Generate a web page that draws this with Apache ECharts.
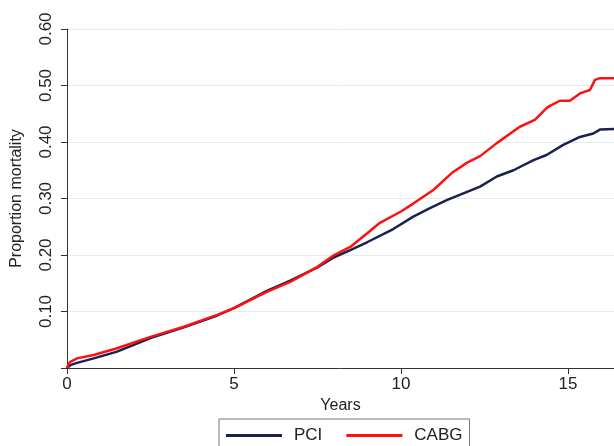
<!DOCTYPE html>
<html>
<head>
<meta charset="utf-8">
<script src="https://cdn.jsdelivr.net/npm/echarts@6/dist/echarts.min.js"></script>
<style>html,body{margin:0;padding:0;background:#fff}#c{width:614px;height:446px}</style>
</head>
<body>
<div id="c"></div>
<script>
var pciYears = [0, 0.1, 0.3, 0.8, 1.5, 2.5, 3.5, 4.5, 5.0, 6.0, 6.7, 7.5, 8.0, 8.5, 9.0, 9.77, 10.37, 10.87, 11.37, 11.87, 12.37, 12.87, 13.37, 13.97, 14.36, 14.86, 15.36, 15.76, 15.96, 16.38];
var pciValues = [0, 0.005, 0.009, 0.017, 0.029, 0.053, 0.072, 0.093, 0.106, 0.137, 0.155, 0.178, 0.196, 0.209, 0.223, 0.246, 0.268, 0.283, 0.297, 0.309, 0.321, 0.339, 0.350, 0.368, 0.377, 0.395, 0.409, 0.415, 0.422, 0.423];
var cabgYears = [0, 0.05, 0.1, 0.3, 0.8, 1.5, 2.5, 3.5, 4.5, 5.0, 6.0, 6.7, 7.5, 8.0, 8.5, 9.0, 9.37, 10.0, 10.37, 10.97, 11.52, 11.97, 12.37, 12.87, 13.56, 14.01, 14.36, 14.46, 14.76, 15.06, 15.36, 15.66, 15.81, 15.96, 16.38];
var cabgValues = [0, 0.007, 0.011, 0.017, 0.023, 0.035, 0.055, 0.073, 0.094, 0.106, 0.135, 0.153, 0.179, 0.200, 0.215, 0.239, 0.257, 0.277, 0.291, 0.315, 0.345, 0.363, 0.375, 0.398, 0.427, 0.439, 0.460, 0.464, 0.473, 0.473, 0.486, 0.492, 0.510, 0.513, 0.513];
var seriesNames = ['PCI', 'CABG'];

function pairs(xs, ys) { return xs.map(function (x, i) { return [x, ys[i]]; }); }

var font = 'Liberation Sans, Arial, sans-serif';
var chart = echarts.init(document.getElementById('c'));
chart.setOption({
  animation: false,
  grid: { left: 67, right: 0, top: 29, bottom: 78, containLabel: false, outerBoundsMode: 'none' },
  legend: {
    data: seriesNames,
    left: 219, top: 419,
    orient: 'horizontal',
    icon: 'rect',
    itemWidth: 56, itemHeight: 3,
    itemGap: 24,
    padding: [8, 7, 20, 7],
    borderColor: '#777', borderWidth: 1,
    textStyle: { fontFamily: font, fontSize: 17, color: '#222', padding: [0, 0, 0, 7] }
  },
  xAxis: {
    type: 'value', min: 0, max: 16.38, interval: 5,
    name: 'Years', nameLocation: 'middle', nameGap: 30,
    nameTextStyle: { fontFamily: font, fontSize: 16, color: '#222' },
    axisLine: { show: true, lineStyle: { color: '#333', width: 1 } },
    axisTick: { show: true, length: 6, lineStyle: { color: '#333' } },
    axisLabel: { fontFamily: font, fontSize: 17, color: '#222', margin: 8, showMaxLabel: false },
    splitLine: { show: false }
  },
  yAxis: {
    type: 'value', min: 0, max: 0.6, interval: 0.1,
    name: 'Proportion mortality', nameLocation: 'middle', nameGap: 42, nameRotate: 90,
    nameTextStyle: { fontFamily: font, fontSize: 16, color: '#222' },
    axisLine: { show: true, lineStyle: { color: '#333', width: 1 } },
    axisTick: { show: true, length: 6, lineStyle: { color: '#333' } },
    axisLabel: {
      fontFamily: font, fontSize: 17, color: '#222', rotate: 90, margin: 12,
      formatter: function (v) { return v === 0 ? '' : v.toFixed(2); }
    },
    splitLine: { show: true, lineStyle: { color: '#e3ebeb', width: 1 } }
  },
  series: [
    { name: 'PCI', type: 'line', data: pairs(pciYears, pciValues), showSymbol: false, symbol: 'none',
      lineStyle: { color: '#1b2050', width: 2.5 }, itemStyle: { color: '#1b2050' }, z: 2 },
    { name: 'CABG', type: 'line', data: pairs(cabgYears, cabgValues), showSymbol: false, symbol: 'none',
      lineStyle: { color: '#ff1010', width: 2.5 }, itemStyle: { color: '#ff1010' }, z: 3 }
  ]
});
</script>
</body>
</html>
